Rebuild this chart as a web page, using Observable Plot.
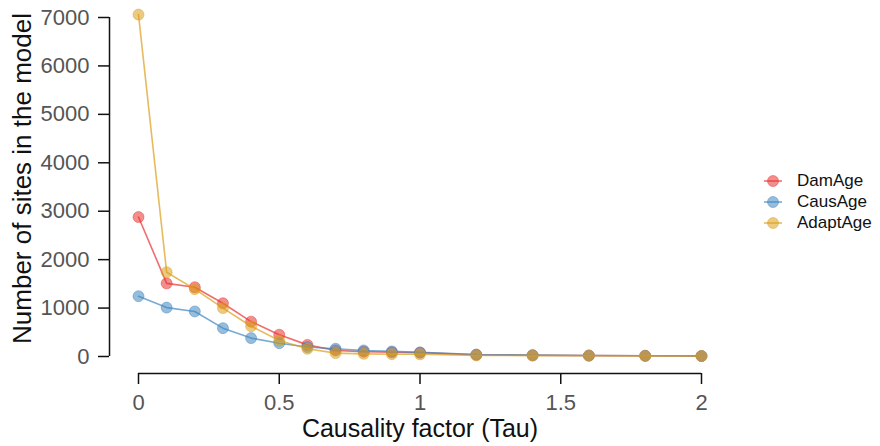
<!DOCTYPE html>
<html>
<head>
<meta charset="utf-8">
<script src="https://cdn.jsdelivr.net/npm/d3@7"></script>
<script src="https://cdn.jsdelivr.net/npm/@observablehq/plot@0.6"></script>
<style>
  html, body { margin: 0; padding: 0; background: #fff; }
  #chart { position: relative; width: 880px; height: 446px; font-family: "Liberation Sans", Arial, Helvetica, sans-serif; }
  #legend { position: absolute; left: 763px; top: 170px; font-size: 17px; color: #111; }
  #legend .item { display: flex; align-items: center; height: 21px; }
  #legend svg { margin-right: 14px; }
</style>
</head>
<body>
<div id="chart"></div>
<script>
// Causality factor (Tau) values sampled
const tau = [0, 0.1, 0.2, 0.3, 0.4, 0.5, 0.6, 0.7, 0.8, 0.9, 1.0, 1.2, 1.4, 1.6, 1.8, 2.0];

// Number of sites in the model, per series
const damAge   = [2880, 1510, 1430, 1100, 720, 450, 240, 125, 100, 88, 80, 35, 25, 20, 15, 10];
const causAge  = [1245, 1010, 930, 585, 380, 275, 195, 160, 125, 105, 85, 40, 28, 20, 15, 10];
const adaptAge = [7060, 1740, 1390, 1000, 625, 330, 160, 70, 55, 48, 45, 22, 18, 14, 12, 10];

const seriesNames  = ["DamAge", "CausAge", "AdaptAge"];
const seriesValues = [damAge, causAge, adaptAge];
const seriesColors = ["#E8312F", "#3F86C0", "#DB9E1A"];

// Axis ticks
const xTicks = [0, 0.5, 1, 1.5, 2];
const yTicks = [0, 1000, 2000, 3000, 4000, 5000, 6000, 7000];

const rows = seriesNames.flatMap((name, i) =>
  tau.map((t, j) => ({series: name, tau: t, sites: seriesValues[i][j]}))
);

const seriesMarks = seriesNames.flatMap(name => {
  const d = rows.filter(r => r.series === name);
  return [
    Plot.line(d, {x: "tau", y: "sites", stroke: "series", strokeWidth: 1.6, strokeOpacity: 0.7}),
    Plot.dot(d, {x: "tau", y: "sites", fill: "series", fillOpacity: 0.55, stroke: "series", strokeOpacity: 0.45, strokeWidth: 1, r: 5.5})
  ];
});

const chart = Plot.plot({
  width: 880,
  height: 446,
  marginLeft: 109,
  marginRight: 179,
  marginTop: 17,
  marginBottom: 73,
  style: {fontFamily: "Liberation Sans, Arial, Helvetica, sans-serif", background: "#fff"},
  x: {domain: [0, 2], insetLeft: 29, insetRight: 0},
  y: {domain: [0, 7000], insetBottom: 17, insetTop: 0},
  color: {domain: seriesNames, range: seriesColors},
  marks: [
    // detached axis lines spanning the tick range only
    Plot.ruleY([0], {x1: xTicks[0], x2: xTicks[xTicks.length - 1], dy: 17, stroke: "#111", strokeWidth: 1.5}),
    Plot.ruleX([0], {y1: yTicks[0], y2: yTicks[yTicks.length - 1], dx: -29, stroke: "#111", strokeWidth: 1.5}),
    Plot.axisX({ticks: xTicks, tickFormat: d => `${d}`, tickSize: 11, tickPadding: 10, fontSize: 22, color: "#555", stroke: "#111", strokeWidth: 1.5, label: null}),
    Plot.axisY({ticks: yTicks, tickFormat: d => `${d}`, tickSize: 11, tickPadding: 9, fontSize: 22, color: "#555", stroke: "#111", strokeWidth: 1.5, label: null}),
    Plot.text(["Causality factor (Tau)"], {frameAnchor: "bottom", textAnchor: "middle", lineAnchor: "middle", dx: 14.5, dy: 55, fontSize: 25, fill: "#111"}),
    Plot.text(["Number of sites in the model"], {frameAnchor: "left", textAnchor: "middle", lineAnchor: "middle", rotate: -90, dx: -87, dy: -17, fontSize: 26, fill: "#111"}),
    ...seriesMarks
  ]
});

const host = document.getElementById("chart");
host.appendChild(chart);

// Legend on the right
const legend = document.createElement("div");
legend.id = "legend";
seriesNames.forEach((name, i) => {
  const item = document.createElement("div");
  item.className = "item";
  item.innerHTML =
    `<svg width="20" height="14">` +
    `<line x1="1" x2="19" y1="7" y2="7" stroke="${seriesColors[i]}" stroke-opacity="0.7" stroke-width="1.6"/>` +
    `<circle cx="10" cy="7" r="5.5" fill="${seriesColors[i]}" fill-opacity="0.55" stroke="${seriesColors[i]}" stroke-opacity="0.45"/>` +
    `</svg><span>${name}</span>`;
  legend.appendChild(item);
});
host.appendChild(legend);
</script>
</body>
</html>
